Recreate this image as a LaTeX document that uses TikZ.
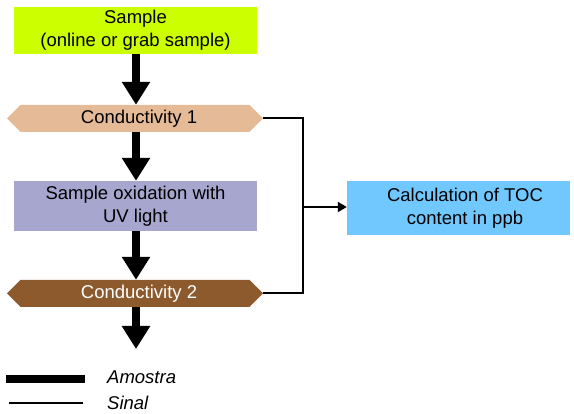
\documentclass[tikz,border=0pt]{standalone}
\usepackage{fontspec}
\setmainfont{Liberation Sans}
\usetikzlibrary{positioning, shapes.symbols, arrows.meta}

\definecolor{samplegreen}{RGB}{204,255,0}
\definecolor{condlight}{RGB}{229,187,151}
\definecolor{oxblue}{RGB}{166,166,206}
\definecolor{conddark}{RGB}{140,90,45}
\definecolor{tocblue}{RGB}{112,200,255}

\tikzset{
    box/.style={rectangle, inner sep=0pt, align=center, font=\fontsize{18.5}{23}\selectfont},
    condbox/.style={signal, signal to=east and west, signal pointer angle=90, inner sep=0pt,
        minimum width=256pt, minimum height=27pt, font=\fontsize{18.5}{23}\selectfont},
    flow/.style={line width=8pt, -{Triangle[width=27pt, length=23pt]}},
    signalline/.style={line width=2pt}
}

\begin{document}
\begin{tikzpicture}[x=1pt, y=-1pt]
        \useasboundingbox (0,0) rectangle (574,414);

        \node[box, fill=samplegreen, minimum width=243pt, minimum height=47pt] (sample) at (135.5,30.5) {Sample\\(online or grab sample)};
        \node[condbox, fill=condlight] (cond1) at (135,118.5) {\hspace*{8pt}Conductivity 1};
        \node[box, fill=oxblue, minimum width=243pt, minimum height=50pt] (oxid) at (135.5,206) {Sample oxidation with\\UV light};
        \node[condbox, fill=conddark, text=white] (cond2) at (135,293.5) {\hspace*{8pt}Conductivity 2};
        \node[box, fill=tocblue, minimum width=223pt, minimum height=54pt] (toc) at (458.5,208) {\hspace*{13pt}Calculation of TOC\\\hspace*{13pt}content in ppb};

        \coordinate (out) at (136,349);
        \coordinate (join) at (303,207);

        \draw[flow] (sample.south -| 136,0) -- (cond1.north -| 136,0);
        \draw[flow] (cond1.south -| 136,0) -- (oxid.north -| 136,0);
        \draw[flow] (oxid.south -| 136,0) -- (cond2.north -| 136,0);
        \draw[flow] (cond2.south -| 136,0) -- (out);

        \draw[signalline] (cond1.east) -| (join);
        \draw[signalline] (cond2.east) -| (join);
        \draw[signalline, -{Triangle[width=10pt, length=9pt]}] (join) -- (join -| toc.west);

        % legend
        \coordinate (a1) at (6,379);
        \coordinate (a2) at (85,379);
        \coordinate (s1) at (9,403);
        \coordinate (s2) at (83,403);
        \draw[line width=8pt] (a1) -- (a2);
        \draw[signalline] (s1) -- (s2);
        \node[anchor=base west, inner sep=0pt, font=\fontsize{18.5}{23}\selectfont\itshape] (amostra) at (107,383.5) {Amostra};
        \node[anchor=base west, inner sep=0pt, font=\fontsize{18.5}{23}\selectfont\itshape] (sinal) at (107,410) {Sinal};

    \end{tikzpicture}
\end{document}
